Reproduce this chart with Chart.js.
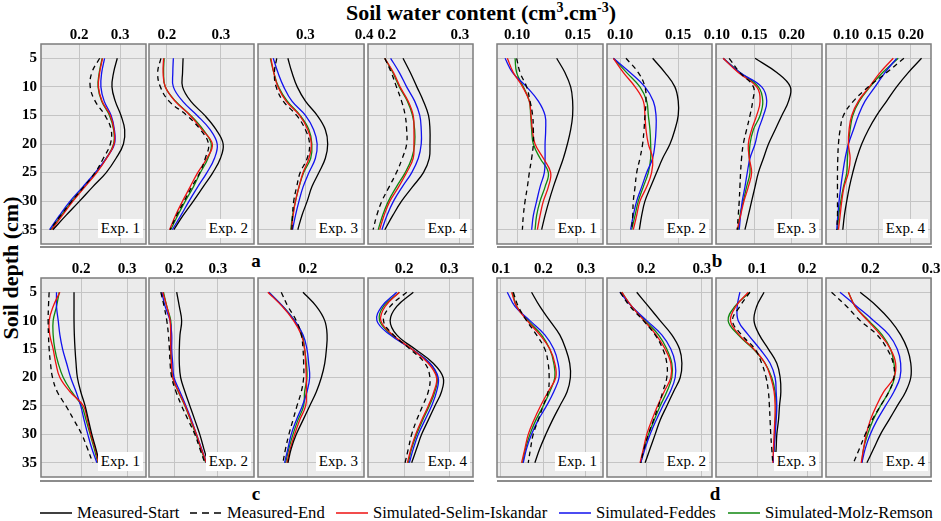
<!DOCTYPE html>
<html>
<head>
<meta charset="utf-8">
<script src="https://cdn.jsdelivr.net/npm/chart.js@4.4.1/dist/chart.umd.min.js"></script>
<style>
  body { margin: 0; background: #fff; width: 941px; height: 521px; overflow: hidden; position: relative;
         font-family: 'Liberation Serif', 'Times New Roman', serif; color: #000; }
  canvas { position: absolute; }
  .exp { position: absolute; background: #fff; font-size: 15px; line-height: 19px; padding: 0 3px; white-space: nowrap; }
  .letter { position: absolute; font-weight: bold; font-size: 19px; line-height: 20px; transform: translate(-50%, -50%); }
  .sep { position: absolute; height: 2px; background: #8c8c8c; }
  .leg { position: absolute; top: 503px; height: 20px; font-size: 16.6px; line-height: 20px; display: flex; align-items: center; white-space: nowrap; }
  .leg svg { margin-right: 5px; }
  #title { position: absolute; left: 481px; top: 13px; transform: translate(-50%, -50%); font-weight: bold; font-size: 22px; white-space: nowrap; }
  #title sup { font-size: 14px; line-height: 0; }
  #ytitle { position: absolute; left: 11px; top: 268px; transform: translate(-50%, -50%) rotate(-90deg); font-weight: bold; font-size: 22px; white-space: nowrap; }
</style>
</head>
<body>
<div id="title">Soil water content (cm<sup>3</sup>.cm<sup>-3</sup>)</div>
<div id="ytitle">Soil depth (cm)</div>

<div class="sep" style="left:40px;top:246px;width:434px"></div>
<div class="sep" style="left:497px;top:246px;width:435px"></div>
<div class="sep" style="left:40px;top:480px;width:434px"></div>
<div class="sep" style="left:497px;top:480px;width:435px"></div>

<div class="letter" style="left:256px;top:261px">a</div>
<div class="letter" style="left:717px;top:261px">b</div>
<div class="letter" style="left:256px;top:494px">c</div>
<div class="letter" style="left:715px;top:494px">d</div>

<div class="leg" style="left:40px"><svg width="32" height="4"><line x1="0" y1="2" x2="32" y2="2" stroke="#000" stroke-width="1.5"/></svg>Measured-Start</div>
<div class="leg" style="left:190px"><svg width="32" height="4"><line x1="0" y1="2" x2="32" y2="2" stroke="#000" stroke-width="1.5" stroke-dasharray="7,5"/></svg>Measured-End</div>
<div class="leg" style="left:336px"><svg width="32" height="4"><line x1="0" y1="2" x2="32" y2="2" stroke="#ee1111" stroke-width="1.5"/></svg>Simulated-Selim-Iskandar</div>
<div class="leg" style="left:559px"><svg width="32" height="4"><line x1="0" y1="2" x2="32" y2="2" stroke="#1111ee" stroke-width="1.5"/></svg>Simulated-Feddes</div>
<div class="leg" style="left:728px"><svg width="32" height="4"><line x1="0" y1="2" x2="32" y2="2" stroke="#0f870f" stroke-width="1.5"/></svg>Simulated-Molz-Remson</div>

<script>
'use strict';

// depth (cm) of every reading
const depths = [5, 7.5, 10, 12.5, 15, 17.5, 20, 22.5, 25, 27.5, 30, 32.5, 35];
const depthTicks = [5, 10, 15, 20, 25, 30, 35];

// quadrant a: Exp. 1..4
const startA = [
  [0.293, 0.284, 0.280, 0.288, 0.302, 0.311, 0.308, 0.290, 0.266, 0.233, 0.201, 0.168, 0.136],
  [0.230, 0.229, 0.229, 0.244, 0.270, 0.291, 0.304, 0.299, 0.285, 0.267, 0.249, 0.230, 0.213],
  [0.270, 0.277, 0.286, 0.300, 0.320, 0.334, 0.338, 0.334, 0.323, 0.311, 0.303, 0.294, 0.287],
  [0.222, 0.232, 0.241, 0.250, 0.257, 0.259, 0.259, 0.258, 0.250, 0.235, 0.220, 0.208, 0.197]
];
const endA = [
  [0.250, 0.231, 0.227, 0.239, 0.263, 0.278, 0.276, 0.259, 0.239, 0.211, 0.182, 0.155, 0.129],
  [0.189, 0.183, 0.188, 0.204, 0.237, 0.262, 0.277, 0.271, 0.261, 0.246, 0.232, 0.218, 0.206],
  [0.251, 0.247, 0.250, 0.262, 0.285, 0.300, 0.307, 0.303, 0.291, 0.285, 0.280, 0.278, 0.277],
  [0.197, 0.206, 0.213, 0.220, 0.225, 0.227, 0.227, 0.221, 0.213, 0.203, 0.193, 0.186, 0.181]
];
const selimA = [
  [0.257, 0.250, 0.247, 0.256, 0.276, 0.285, 0.285, 0.267, 0.243, 0.214, 0.185, 0.159, 0.133],
  [0.194, 0.193, 0.197, 0.215, 0.243, 0.265, 0.284, 0.274, 0.257, 0.243, 0.229, 0.216, 0.205],
  [0.241, 0.246, 0.253, 0.267, 0.290, 0.304, 0.310, 0.306, 0.296, 0.289, 0.283, 0.279, 0.276],
  [0.197, 0.209, 0.218, 0.229, 0.236, 0.237, 0.237, 0.236, 0.227, 0.216, 0.204, 0.196, 0.190]
];
const feddesA = [
  [0.262, 0.255, 0.253, 0.261, 0.278, 0.286, 0.286, 0.266, 0.239, 0.209, 0.178, 0.152, 0.128],
  [0.212, 0.211, 0.212, 0.229, 0.256, 0.280, 0.293, 0.288, 0.274, 0.257, 0.241, 0.226, 0.210],
  [0.245, 0.253, 0.263, 0.277, 0.300, 0.314, 0.320, 0.317, 0.306, 0.296, 0.289, 0.283, 0.278],
  [0.205, 0.217, 0.227, 0.238, 0.245, 0.247, 0.247, 0.243, 0.234, 0.221, 0.209, 0.200, 0.193]
];
const molzA = [
  [0.256, 0.249, 0.246, 0.255, 0.274, 0.284, 0.284, 0.266, 0.241, 0.212, 0.182, 0.156, 0.131],
  [0.195, 0.194, 0.197, 0.216, 0.244, 0.267, 0.282, 0.276, 0.262, 0.249, 0.234, 0.220, 0.207],
  [0.240, 0.246, 0.254, 0.269, 0.291, 0.306, 0.311, 0.309, 0.297, 0.289, 0.283, 0.278, 0.275],
  [0.197, 0.208, 0.217, 0.228, 0.235, 0.238, 0.238, 0.234, 0.225, 0.213, 0.202, 0.194, 0.188]
];

// quadrant b
const startB = [
  [0.1325, 0.1393, 0.1440, 0.1456, 0.1456, 0.1440, 0.1413, 0.1380, 0.1339, 0.1298, 0.1262, 0.1230, 0.1202],
  [0.1280, 0.1386, 0.1471, 0.1500, 0.1500, 0.1471, 0.1429, 0.1366, 0.1314, 0.1263, 0.1214, 0.1186, 0.1166],
  [0.1509, 0.1799, 0.1978, 0.1955, 0.1866, 0.1777, 0.1688, 0.1621, 0.1554, 0.1509, 0.1464, 0.1420, 0.1375],
  [0.2164, 0.1959, 0.1779, 0.1626, 0.1472, 0.1344, 0.1241, 0.1164, 0.1103, 0.1051, 0.1010, 0.0974, 0.0949]
];
const endB = [
  [0.0997, 0.1025, 0.1079, 0.1107, 0.1128, 0.1134, 0.1134, 0.1120, 0.1101, 0.1085, 0.1066, 0.1052, 0.1044],
  [0.1051, 0.1157, 0.1214, 0.1223, 0.1214, 0.1206, 0.1194, 0.1171, 0.1143, 0.1129, 0.1114, 0.1109, 0.1100],
  [0.1165, 0.1308, 0.1487, 0.1478, 0.1442, 0.1397, 0.1353, 0.1330, 0.1317, 0.1308, 0.1299, 0.1286, 0.1272],
  [0.1892, 0.1626, 0.1344, 0.1113, 0.0959, 0.0908, 0.0882, 0.0872, 0.0867, 0.0867, 0.0867, 0.0867, 0.0856]
];
const selimB = [
  [0.0921, 0.0970, 0.1046, 0.1101, 0.1115, 0.1126, 0.1148, 0.1216, 0.1276, 0.1257, 0.1216, 0.1189, 0.1167],
  [0.0943, 0.1029, 0.1129, 0.1200, 0.1214, 0.1223, 0.1243, 0.1280, 0.1271, 0.1229, 0.1171, 0.1143, 0.1114],
  [0.1085, 0.1286, 0.1531, 0.1576, 0.1531, 0.1464, 0.1420, 0.1433, 0.1464, 0.1420, 0.1362, 0.1317, 0.1272],
  [0.1728, 0.1523, 0.1359, 0.1190, 0.1087, 0.1046, 0.1036, 0.1062, 0.1036, 0.0969, 0.0933, 0.0908, 0.0882]
];
const feddesB = [
  [0.0902, 0.0964, 0.1079, 0.1175, 0.1230, 0.1235, 0.1230, 0.1230, 0.1224, 0.1189, 0.1161, 0.1134, 0.1120],
  [0.0943, 0.1086, 0.1214, 0.1286, 0.1309, 0.1309, 0.1300, 0.1280, 0.1229, 0.1186, 0.1143, 0.1114, 0.1091],
  [0.1085, 0.1308, 0.1598, 0.1665, 0.1621, 0.1554, 0.1509, 0.1442, 0.1406, 0.1375, 0.1339, 0.1317, 0.1299],
  [0.1779, 0.1600, 0.1446, 0.1292, 0.1190, 0.1113, 0.1036, 0.0985, 0.0949, 0.0918, 0.0892, 0.0872, 0.0856]
];
const molzB = [
  [0.0984, 0.0997, 0.1052, 0.1101, 0.1112, 0.1120, 0.1134, 0.1189, 0.1257, 0.1230, 0.1189, 0.1161, 0.1148],
  [0.0943, 0.1057, 0.1171, 0.1229, 0.1243, 0.1257, 0.1263, 0.1263, 0.1243, 0.1200, 0.1157, 0.1129, 0.1100],
  [0.1085, 0.1308, 0.1554, 0.1612, 0.1576, 0.1487, 0.1442, 0.1433, 0.1442, 0.1397, 0.1353, 0.1308, 0.1286],
  [0.1805, 0.1564, 0.1369, 0.1205, 0.1103, 0.1062, 0.1036, 0.1021, 0.1010, 0.0959, 0.0918, 0.0887, 0.0867]
];

// quadrant c
const startC = [
  [0.1847, 0.1847, 0.1847, 0.1854, 0.1869, 0.1891, 0.1920, 0.1993, 0.2088, 0.2161, 0.2234, 0.2321, 0.2401],
  [0.2060, 0.2120, 0.2173, 0.2135, 0.2120, 0.2120, 0.2150, 0.2248, 0.2361, 0.2474, 0.2586, 0.2677, 0.2774],
  [0.1917, 0.2139, 0.2278, 0.2317, 0.2306, 0.2278, 0.2222, 0.2139, 0.2028, 0.1917, 0.1806, 0.1722, 0.1667],
  [0.2206, 0.1838, 0.1691, 0.1838, 0.2243, 0.2647, 0.2868, 0.2831, 0.2684, 0.2537, 0.2390, 0.2279, 0.2169]
];
const endC = [
  [0.1307, 0.1292, 0.1285, 0.1292, 0.1307, 0.1336, 0.1380, 0.1482, 0.1672, 0.1847, 0.2015, 0.2139, 0.2255],
  [0.1699, 0.1774, 0.1835, 0.1872, 0.1895, 0.1910, 0.1947, 0.2045, 0.2173, 0.2323, 0.2474, 0.2586, 0.2699],
  [0.1556, 0.1667, 0.1806, 0.1889, 0.1917, 0.1928, 0.1928, 0.1889, 0.1817, 0.1750, 0.1683, 0.1628, 0.1583],
  [0.2059, 0.1691, 0.1544, 0.1765, 0.2132, 0.2463, 0.2574, 0.2537, 0.2412, 0.2279, 0.2169, 0.2096, 0.2022]
];
const selimC = [
  [0.1540, 0.1394, 0.1307, 0.1321, 0.1394, 0.1453, 0.1540, 0.1759, 0.2051, 0.2139, 0.2212, 0.2307, 0.2380],
  [0.1744, 0.1835, 0.1910, 0.1925, 0.1925, 0.1940, 0.1970, 0.2105, 0.2256, 0.2383, 0.2511, 0.2617, 0.2737],
  [0.1333, 0.1572, 0.1761, 0.1889, 0.1944, 0.1961, 0.1972, 0.1972, 0.1961, 0.1861, 0.1778, 0.1706, 0.1650],
  [0.1897, 0.1581, 0.1485, 0.1750, 0.2169, 0.2537, 0.2721, 0.2662, 0.2537, 0.2390, 0.2257, 0.2154, 0.2074]
];
const feddesC = [
  [0.1467, 0.1467, 0.1504, 0.1540, 0.1599, 0.1686, 0.1774, 0.1891, 0.1993, 0.2066, 0.2146, 0.2234, 0.2343],
  [0.1722, 0.1797, 0.1910, 0.1947, 0.1947, 0.1970, 0.2000, 0.2135, 0.2271, 0.2398, 0.2511, 0.2624, 0.2737],
  [0.1350, 0.1583, 0.1778, 0.1917, 0.1983, 0.2011, 0.2028, 0.1983, 0.1906, 0.1806, 0.1722, 0.1667, 0.1611],
  [0.1838, 0.1507, 0.1397, 0.1691, 0.2169, 0.2574, 0.2757, 0.2721, 0.2610, 0.2463, 0.2316, 0.2206, 0.2118]
];
const molzC = [
  [0.1526, 0.1467, 0.1394, 0.1394, 0.1431, 0.1504, 0.1613, 0.1796, 0.2015, 0.2109, 0.2197, 0.2285, 0.2365],
  [0.1759, 0.1835, 0.1925, 0.1925, 0.1925, 0.1940, 0.1970, 0.2098, 0.2248, 0.2376, 0.2496, 0.2609, 0.2722],
  [0.1350, 0.1583, 0.1778, 0.1906, 0.1944, 0.1972, 0.1983, 0.1944, 0.1928, 0.1833, 0.1750, 0.1683, 0.1628],
  [0.1897, 0.1544, 0.1456, 0.1728, 0.2169, 0.2574, 0.2735, 0.2684, 0.2559, 0.2412, 0.2279, 0.2169, 0.2096]
];

// quadrant d
const startD = [
  [0.1719, 0.1914, 0.2148, 0.2383, 0.2523, 0.2617, 0.2633, 0.2555, 0.2383, 0.2211, 0.2055, 0.1914, 0.1797],
  [0.1832, 0.2042, 0.2251, 0.2461, 0.2599, 0.2641, 0.2611, 0.2491, 0.2371, 0.2251, 0.2162, 0.2072, 0.1982],
  [0.1141, 0.0993, 0.0940, 0.1047, 0.1228, 0.1396, 0.1463, 0.1477, 0.1450, 0.1430, 0.1396, 0.1383, 0.1362],
  [0.1833, 0.2111, 0.2333, 0.2500, 0.2611, 0.2667, 0.2667, 0.2583, 0.2444, 0.2306, 0.2167, 0.2056, 0.1944]
];
const endD = [
  [0.1289, 0.1406, 0.1602, 0.1836, 0.2031, 0.2109, 0.2133, 0.2109, 0.1992, 0.1875, 0.1758, 0.1695, 0.1641],
  [0.1533, 0.1713, 0.1952, 0.2162, 0.2299, 0.2371, 0.2371, 0.2299, 0.2222, 0.2132, 0.2042, 0.1964, 0.1904],
  [0.0859, 0.0658, 0.0510, 0.0691, 0.0960, 0.1094, 0.1181, 0.1228, 0.1248, 0.1262, 0.1275, 0.1295, 0.1315],
  [0.1361, 0.1611, 0.1833, 0.2111, 0.2278, 0.2378, 0.2389, 0.2306, 0.2167, 0.2028, 0.1917, 0.1822, 0.1722]
];
const selimD = [
  [0.1250, 0.1367, 0.1617, 0.1914, 0.2148, 0.2266, 0.2289, 0.2109, 0.1930, 0.1773, 0.1641, 0.1563, 0.1484],
  [0.1563, 0.1743, 0.1964, 0.2180, 0.2341, 0.2443, 0.2443, 0.2323, 0.2204, 0.2102, 0.2012, 0.1952, 0.1892],
  [0.0826, 0.0577, 0.0470, 0.0644, 0.0940, 0.1161, 0.1275, 0.1342, 0.1362, 0.1356, 0.1342, 0.1329, 0.1315],
  [0.1639, 0.1750, 0.1956, 0.2167, 0.2333, 0.2417, 0.2389, 0.2222, 0.2100, 0.2000, 0.1933, 0.1889, 0.1850]
];
const feddesD = [
  [0.1148, 0.1328, 0.1680, 0.2031, 0.2242, 0.2344, 0.2367, 0.2242, 0.2070, 0.1875, 0.1719, 0.1602, 0.1523],
  [0.1533, 0.1743, 0.2012, 0.2281, 0.2443, 0.2521, 0.2521, 0.2431, 0.2299, 0.2180, 0.2072, 0.1982, 0.1904],
  [0.0658, 0.0604, 0.0624, 0.0826, 0.1060, 0.1262, 0.1362, 0.1383, 0.1396, 0.1383, 0.1362, 0.1342, 0.1329],
  [0.1500, 0.1778, 0.2056, 0.2306, 0.2444, 0.2500, 0.2489, 0.2389, 0.2250, 0.2111, 0.2000, 0.1917, 0.1861]
];
const molzD = [
  [0.1273, 0.1367, 0.1641, 0.1953, 0.2148, 0.2242, 0.2266, 0.2148, 0.1992, 0.1820, 0.1680, 0.1578, 0.1508],
  [0.1563, 0.1743, 0.1982, 0.2222, 0.2371, 0.2461, 0.2461, 0.2371, 0.2251, 0.2144, 0.2042, 0.1964, 0.1904],
  [0.0859, 0.0557, 0.0423, 0.0624, 0.0926, 0.1161, 0.1295, 0.1362, 0.1383, 0.1369, 0.1356, 0.1342, 0.1329],
  [0.1639, 0.1750, 0.1972, 0.2194, 0.2333, 0.2389, 0.2400, 0.2306, 0.2167, 0.2044, 0.1956, 0.1889, 0.1861]
];

// axis ranges and tick labels per panel
const rangeA = [[0.107, 0.363], [0.167, 0.361], [0.219, 0.400], [0.174, 0.318]];
const rangeB = [[0.0836, 0.1705], [0.0888, 0.179], [0.099, 0.24], [0.069, 0.231]];
const rangeC = [[0.113, 0.341], [0.143, 0.382], [0.117, 0.293], [0.12, 0.353]];
const rangeD = [[0.0906, 0.34], [0.13, 0.318], [0.018, 0.23], [0.127, 0.30]];
const ticksA = [['0.2', '0.3'], ['0.2', '0.3'], ['0.3', '0.4'], ['0.2', '0.3']];
const ticksB = [['0.10', '0.15'], ['0.10', '0.15'], ['0.10', '0.15', '0.20'], ['0.10', '0.15', '0.20']];
const ticksC = [['0.2', '0.3'], ['0.2', '0.3'], ['0.2'], ['0.2', '0.3']];
const ticksD = [['0.1', '0.2', '0.3'], ['0.2', '0.3'], ['0.1', '0.2'], ['0.2', '0.3']];

const seriesNames = ['Measured-Start', 'Measured-End', 'Simulated-Selim-Iskandar', 'Simulated-Feddes', 'Simulated-Molz-Remson'];

// layout
const colLeft = [41, 149, 258, 368, 497, 607, 716, 826];
const colWidth = [105, 105, 106, 105, 106, 105, 106, 105];
const rowTop = [44, 278];
const rowHeight = [200, 199];
const axisTop = 30;
const serif = "'Liberation Serif', 'Times New Roman', serif";

const lineStyle = [
  { color: '#000000', dash: [] },
  { color: '#000000', dash: [5, 4] },
  { color: '#ee1111', dash: [] },
  { color: '#1111ee', dash: [] },
  { color: '#0f870f', dash: [] }
];

const quadrants = [
  { row: 0, col: 0, series: [startA, endA, selimA, feddesA, molzA], range: rangeA, ticks: ticksA },
  { row: 0, col: 4, series: [startB, endB, selimB, feddesB, molzB], range: rangeB, ticks: ticksB },
  { row: 1, col: 0, series: [startC, endC, selimC, feddesC, molzC], range: rangeC, ticks: ticksC },
  { row: 1, col: 4, series: [startD, endD, selimD, feddesD, molzD], range: rangeD, ticks: ticksD }
];

const panelFrame = {
  id: 'panelFrame',
  beforeDraw(chart) {
    const a = chart.chartArea;
    const ctx = chart.ctx;
    ctx.save();
    ctx.fillStyle = '#ebebeb';
    ctx.fillRect(a.left, a.top, a.right - a.left, a.bottom - a.top);
    ctx.restore();
  },
  afterDraw(chart) {
    const a = chart.chartArea;
    const ctx = chart.ctx;
    ctx.save();
    ctx.strokeStyle = '#7c7c7c';
    ctx.lineWidth = 1.5;
    ctx.strokeRect(a.left, a.top, a.right - a.left, a.bottom - a.top);
    ctx.restore();
  }
};

function makePanel(q, exp) {
  const col = q.col + exp;
  const first = col === 0;
  const padL = first ? 0 : 16;
  const padR = 16;
  const padB = 14;
  const yW = first ? 41 : 0;
  const left = colLeft[col], width = colWidth[col];
  const top = rowTop[q.row], height = rowHeight[q.row];

  const canvas = document.createElement('canvas');
  canvas.width = width + padL + padR + yW;
  canvas.height = height + axisTop + padB;
  canvas.style.left = (left - padL - yW) + 'px';
  canvas.style.top = (top - axisTop) + 'px';
  document.body.appendChild(canvas);

  const labels = q.ticks[exp];
  const tickVals = labels.map(Number);

  new Chart(canvas, {
    type: 'scatter',
    data: {
      datasets: q.series.map((s, k) => ({
        label: seriesNames[k],
        data: depths.map((d, i) => ({ x: s[exp][i], y: d })),
        showLine: true,
        borderColor: lineStyle[k].color,
        borderDash: lineStyle[k].dash,
        borderWidth: 1.3,
        pointRadius: 0,
        tension: 0.4,
        fill: false
      }))
    },
    options: {
      responsive: false,
      animation: false,
      devicePixelRatio: 1,
      layout: { padding: { left: padL, right: padR, top: 0, bottom: padB } },
      plugins: { legend: { display: false }, tooltip: { enabled: false } },
      scales: {
        x: {
          type: 'linear', position: 'top',
          min: q.range[exp][0], max: q.range[exp][1],
          afterBuildTicks: sc => { sc.ticks = tickVals.map(v => ({ value: v })); },
          afterFit: sc => { sc.height = axisTop; },
          ticks: {
            callback: (v, i) => labels[i],
            font: { family: serif, size: 15, weight: 'bold' },
            color: '#000', padding: 0, maxRotation: 0, autoSkip: false
          },
          grid: { color: '#c4c4c4', lineWidth: 1, drawTicks: false },
          border: { display: false }
        },
        y: {
          type: 'linear', reverse: true, min: 2.5, max: 37.5,
          afterBuildTicks: sc => { sc.ticks = depthTicks.map(v => ({ value: v })); },
          afterFit: sc => { sc.width = yW; },
          ticks: {
            display: first,
            font: { family: serif, size: 15, weight: 'bold' },
            color: '#000', padding: 4
          },
          grid: { color: '#c4c4c4', lineWidth: 1, drawTicks: false },
          border: { display: false }
        }
      }
    },
    plugins: [panelFrame]
  });

  const tag = document.createElement('div');
  tag.className = 'exp';
  tag.textContent = 'Exp. ' + (exp + 1);
  tag.style.right = (941 - (left + width) + 3) + 'px';
  tag.style.bottom = (521 - (top + height) + 6) + 'px';
  document.body.appendChild(tag);
}

quadrants.forEach(q => {
  for (let e = 0; e < 4; e++) makePanel(q, e);
});
</script>
</body>
</html>
